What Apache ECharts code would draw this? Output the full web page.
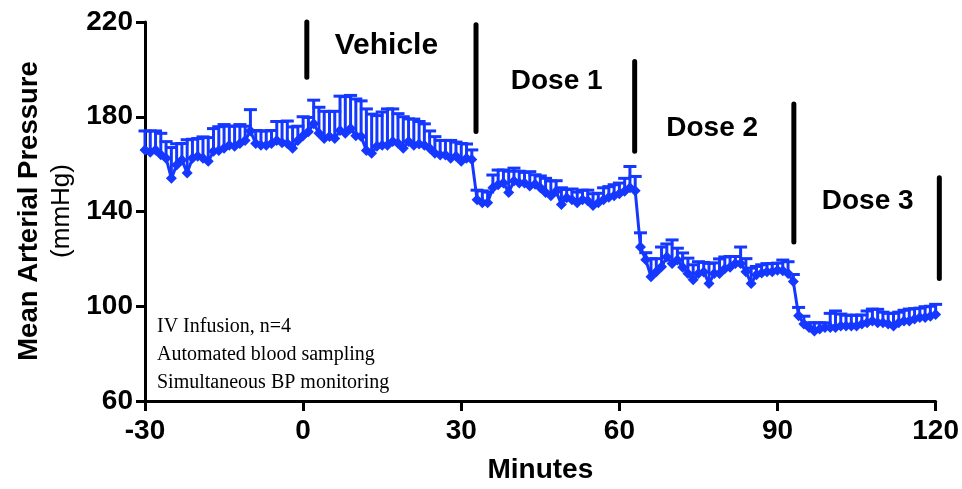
<!DOCTYPE html>
<html>
<head>
<meta charset="utf-8">
<script src="https://cdn.jsdelivr.net/npm/echarts@6/dist/echarts.min.js"></script>
<style>
html,body{margin:0;padding:0;background:#fff;}
#chart{width:962px;height:489px;}
</style>
</head>
<body>
<div id="chart"></div>
<script>
// ---- data ----
const minutes = [
  -30,-29,-28,-27,-26,-25,-24,-23,-22,-21,
  -20,-19,-18,-17,-16,-15,-14,-13,-12,-11,
  -10,-9,-8,-7,-6,-5,-4,-3,-2,-1,
  0,1,2,3,4,5,6,7,8,9,
  10,11,12,13,14,15,16,17,18,19,
  20,21,22,23,24,25,26,27,28,29,
  30,31,32,33,34,35,36,37,38,39,
  40,41,42,43,44,45,46,47,48,49,
  50,51,52,53,54,55,56,57,58,59,
  60,61,62,63,64,65,66,67,68,69,
  70,71,72,73,74,75,76,77,78,79,
  80,81,82,83,84,85,86,87,88,89,
  90,91,92,93,94,95,96,97,98,99,
  100,101,102,103,104,105,106,107,108,109,
  110,111,112,113,114,115,116,117,118,119,
  120
];
const meanMAP = [
  166,165,166,164,162.5,154,159.6,161.7,156.3,162.5,
  163.3,162.5,161.2,165.4,165.8,166.7,168,167.5,168.7,170,
  174,168.7,168,168,168.7,170,169,168.7,166.7,170,
  172,173.7,177,173,170.8,171.7,170.8,174.2,173,175,
  172,171.7,165.8,164.6,167.5,168,168,169.6,168.8,166.7,
  169.6,168,168.5,168,166.7,164.6,163.8,163.8,162.5,163.3,
  161.2,162.5,162,145,143.7,143.7,150,151.3,152,148,
  152.9,152,152,150.8,151.5,150,148,146.7,148.5,143,
  145.8,145,143.7,145,144.5,142.5,143.7,145,146,146.7,
  147.5,148.5,150,148.8,125,119.6,112.5,114.6,116.7,120.8,
  118,119.5,116.5,113.8,111.2,113.8,114.5,109.6,113.8,113.8,
  115.8,116.5,118,118,114.6,109.6,113.3,114,114.6,114.6,
  115.2,115,113.8,110.4,96,92.5,91,89.6,90.4,91,
  91,91,91.7,91.7,91.7,91.7,92.5,93,93.8,93,
  93,92.5,91.7,93,93.8,93.8,94.6,95.2,95.2,95.8,
  96.5
];
const semMAP = [
  8,9,8,9,7,13,9,7,14,8,
  7.5,9,10,9.6,10,10,8,8.5,8,6,
  9,5.5,6,6,5.5,8,9,9.5,9,6,
  8,6,10,11,11.5,10.5,11.5,14.5,15.5,14,
  15.5,15,17.5,16.5,13,14,15.3,13.7,12.5,13.3,
  9.5,11,9.5,9,7.3,7,6.2,6.2,7.5,6,
  7.5,6,4,4,5,4.5,5.4,6.2,5.5,9,
  5.4,5,4.5,6,4,5,6,6.2,4.5,7,
  3.5,4.5,4.5,4,4.5,5,4,5,4.5,4.6,
  4.5,5.5,9,6,6,3,7.5,5.5,8.3,5.5,
  10,5,6,6.5,6.3,5,4,8.5,4.5,6.2,
  5,4.5,3,7,5.5,6.5,3.5,3.5,3.4,3.4,
  3,4.5,5,3,3.5,3.3,2,3.4,2.6,2,
  6,7,5,4.5,4.5,4.5,3.8,5,5,5.7,
  4.5,4.5,5.3,4.5,4.5,5,4.4,4,4.6,4.2,
  4.3
];
const doseLineMin  = [0.7, 32.8, 62.9, 93.1, 120.7];
const doseLineLow  = [196.7, 173.8, 165.4, 127.1, 111.7];
const doseLineHigh = [220, 218.8, 203.3, 185.4, 154.2];
const phaseNames = ['Vehicle', 'Dose 1', 'Dose 2', 'Dose 3'];
const phaseX = [15.8, 48.1, 77.6, 107.1];
const phaseY = [210, 195, 175, 144.2];
const xTicks = [-30, 0, 30, 60, 90, 120];
const yTicks = [60, 100, 140, 180, 220];
const noteLines = ['IV Infusion, n=4', 'Automated blood sampling', 'Simultaneous BP monitoring'];

// ---- build ----
const BLUE = '#1438ff';
const phaseFont = ['bold 30px "Liberation Sans", Arial, sans-serif',
                   'bold 28px "Liberation Sans", Arial, sans-serif',
                   'bold 28px "Liberation Sans", Arial, sans-serif',
                   'bold 28px "Liberation Sans", Arial, sans-serif'];
const lineData = minutes.map((m, i) => [m, meanMAP[i]]);
const errData = minutes.map((m, i) => [m, meanMAP[i], meanMAP[i] + semMAP[i]]);
const doseData = doseLineMin.map((m, i) => [m, doseLineLow[i], doseLineHigh[i]]);
const phaseData = phaseNames.map((n, i) => [phaseX[i], phaseY[i], n]);

const chart = echarts.init(document.getElementById('chart'), null, {renderer: 'canvas'});
const AX = {color: '#000', fontFamily: 'Liberation Sans, Arial, sans-serif', fontWeight: 'bold', fontSize: 28};

chart.setOption({
  animation: false,
  backgroundColor: '#fff',
  grid: {left: 145, right: 24, top: 22, bottom: 83, containLabel: false},
  xAxis: {
    type: 'value', min: xTicks[0], max: xTicks[xTicks.length - 1], interval: 30,
    name: 'Minutes', nameLocation: 'middle', nameGap: 55,
    nameTextStyle: Object.assign({}, AX),
    axisLine: {show: true, onZero: false, lineStyle: {color: '#000', width: 3}},
    axisTick: {show: true, length: 10, lineStyle: {color: '#000', width: 3}},
    axisLabel: Object.assign({margin: 16}, AX),
    splitLine: {show: false}
  },
  yAxis: {
    type: 'value', min: yTicks[0], max: yTicks[yTicks.length - 1], interval: 40,
    axisLine: {show: true, onZero: false, lineStyle: {color: '#000', width: 3}},
    axisTick: {show: true, length: 9, lineStyle: {color: '#000', width: 3}},
    axisLabel: Object.assign({margin: 12}, AX),
    splitLine: {show: false}
  },
  graphic: [
    {type: 'text', x: 29, y: 211, rotation: Math.PI / 2,
     style: {text: 'Mean Arterial Pressure', fill: '#000', font: 'bold 27.5px "Liberation Sans", Arial, sans-serif', textAlign: 'center', textVerticalAlign: 'middle'}},
    {type: 'text', x: 62, y: 211, rotation: Math.PI / 2,
     style: {text: '(mmHg)', fill: '#000', font: '26px "Liberation Sans", Arial, sans-serif', textAlign: 'center', textVerticalAlign: 'middle'}},
    {type: 'text', left: 157, top: 313,
     style: {text: noteLines.join('\n'), fill: '#000', font: '20px "Liberation Serif", "Times New Roman", serif', lineHeight: 28}}
  ],
  series: [
    {
      type: 'custom', name: 'err', z: 3,
      data: errData,
      renderItem: function (params, api) {
        const p0 = api.coord([api.value(0), api.value(1)]);
        const p1 = api.coord([api.value(0), api.value(2)]);
        const hw = 6.5;
        return {type: 'group', children: [
          {type: 'line', shape: {x1: p0[0], y1: p0[1], x2: p1[0], y2: p1[1]}, style: {stroke: BLUE, lineWidth: 3}},
          {type: 'line', shape: {x1: p1[0] - hw, y1: p1[1], x2: p1[0] + hw, y2: p1[1]}, style: {stroke: BLUE, lineWidth: 3}}
        ]};
      }
    },
    {
      type: 'line', name: 'MAP', z: 4,
      data: lineData,
      symbol: 'diamond', symbolSize: 11, showSymbol: true,
      lineStyle: {color: BLUE, width: 3},
      itemStyle: {color: BLUE, borderWidth: 0}
    },
    {
      type: 'custom', name: 'dose', z: 5,
      data: doseData,
      renderItem: function (params, api) {
        const p0 = api.coord([api.value(0), api.value(1)]);
        const p1 = api.coord([api.value(0), api.value(2)]);
        return {type: 'line', shape: {x1: p0[0], y1: p0[1], x2: p1[0], y2: p1[1]}, style: {stroke: '#000', lineWidth: 5, lineCap: 'round'}};
      }
    },
    {
      type: 'custom', name: 'phase', z: 5,
      data: phaseData,
      renderItem: function (params, api) {
        const p = api.coord([api.value(0), api.value(1)]);
        return {type: 'text', x: p[0], y: p[1], style: {text: phaseData[params.dataIndex][2], fill: '#000', font: phaseFont[params.dataIndex], textAlign: 'center', textVerticalAlign: 'middle'}};
      }
    }
  ]
});
</script>
</body>
</html>
